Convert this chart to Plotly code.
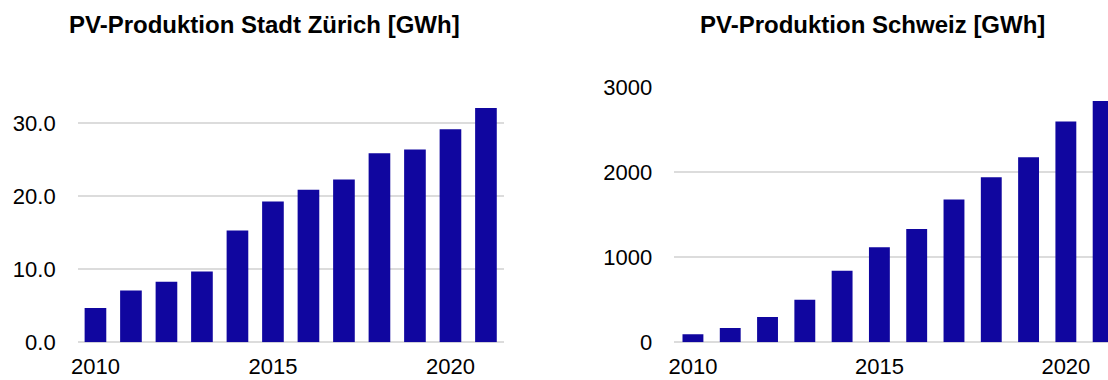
import plotly.graph_objects as go

# Annual photovoltaic production
years = [2010, 2011, 2012, 2013, 2014, 2015, 2016, 2017, 2018, 2019, 2020, 2021]
zurich_gwh = [4.7, 7.1, 8.3, 9.7, 15.3, 19.3, 20.9, 22.3, 25.9, 26.4, 29.2, 32.1]
schweiz_gwh = [94, 168, 299, 500, 842, 1119, 1333, 1683, 1944, 2178, 2599, 2842]

title_zurich = "PV-Produktion Stadt Zürich [GWh]"
title_schweiz = "PV-Produktion Schweiz [GWh]"
year_ticks = [2010, 2015, 2020]

W, H = 1108, 380
BAR_COLOR = "#10069f"
GRID_COLOR = "#dcdcdc"
FONT = "Liberation Sans, Arial, sans-serif"

fig = go.Figure()
fig.add_trace(go.Bar(x=years, y=zurich_gwh, width=0.61, marker_color=BAR_COLOR,
                     marker_line_width=0, xaxis="x", yaxis="y"))
fig.add_trace(go.Bar(x=years, y=schweiz_gwh, width=0.56, marker_color=BAR_COLOR,
                     marker_line_width=0, xaxis="x2", yaxis="y2"))

y_dom = [(H - 342.3) / H, (H - 86.8) / H]

common_x = dict(tickmode="array", tickvals=year_ticks, ticktext=[str(v) for v in year_ticks],
                showgrid=False, zeroline=False, showline=False, ticks="",
                tickfont=dict(family=FONT, size=22, color="#000"), fixedrange=True,
                automargin=False, ticklabelstandoff=9)
common_y = dict(showgrid=True, gridcolor=GRID_COLOR, gridwidth=2, zeroline=True,
                zerolinecolor=GRID_COLOR, zerolinewidth=2, showline=False, ticks="",
                tickfont=dict(family=FONT, size=22, color="#000"), domain=y_dom,
                fixedrange=True, automargin=False, ticklabelstandoff=21)

fig.update_layout(
    width=W, height=H,
    margin=dict(l=0, r=0, t=0, b=0, pad=0),
    paper_bgcolor="white", plot_bgcolor="white",
    showlegend=False,
    xaxis=dict(common_x, domain=[77.7 / W, 503.7 / W], range=[2009.5, 2021.5], anchor="y"),
    yaxis=dict(common_y, range=[0, 35], dtick=10, tickformat=".1f", anchor="x"),
    xaxis2=dict(common_x, domain=[674.3 / W, 1.0], range=[2009.5, 2021.13], anchor="y2"),
    yaxis2=dict(common_y, range=[0, 3009], dtick=1000, tickformat="d", anchor="x2"),
    annotations=[
        dict(text=f"<b>{title_zurich}</b>", x=67 / W, y=(H - 25) / H, xref="paper", yref="paper",
             xanchor="left", yanchor="middle", showarrow=False,
             font=dict(family=FONT, size=24, color="#000")),
        dict(text=f"<b>{title_schweiz}</b>", x=698 / W, y=(H - 25) / H, xref="paper", yref="paper",
             xanchor="left", yanchor="middle", showarrow=False,
             font=dict(family=FONT, size=24, color="#000")),
    ],
)

fig.write_html("out.html", config={"displayModeBar": False},
               post_script="document.body.style.margin='0';")
